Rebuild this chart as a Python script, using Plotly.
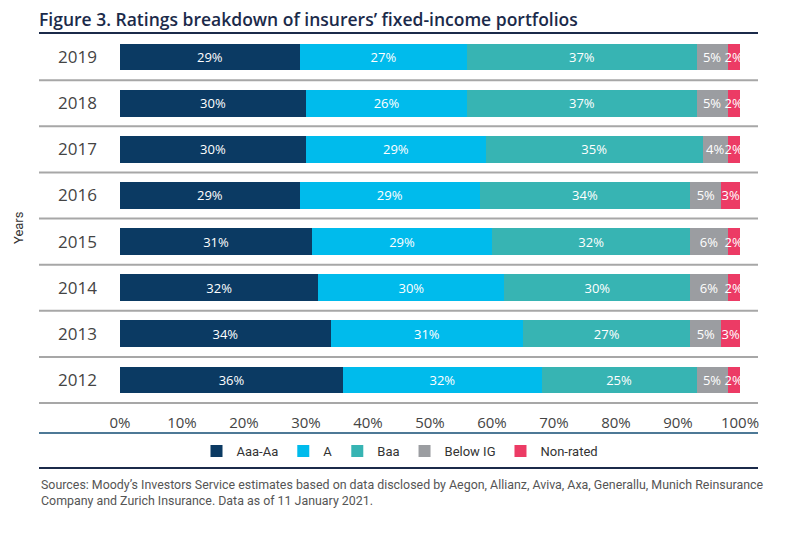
import plotly.graph_objects as go

years = ["2019", "2018", "2017", "2016", "2015", "2014", "2013", "2012"]
aaa_aa = [29, 30, 30, 29, 31, 32, 34, 36]
a_vals = [27, 26, 29, 29, 29, 30, 31, 32]
baa = [37, 37, 35, 34, 32, 30, 27, 25]
below_ig = [5, 5, 4, 5, 6, 6, 5, 5]
non_rated = [2, 2, 2, 3, 2, 2, 3, 2]
x_ticks = [0, 10, 20, 30, 40, 50, 60, 70, 80, 90, 100]

series = [
    ("Aaa-Aa", aaa_aa, "#0b3a63"),
    ("A", a_vals, "#00bbec"),
    ("Baa", baa, "#37b4b3"),
    ("Below IG", below_ig, "#9b9da1"),
    ("Non-rated", non_rated, "#ec3b65"),
]

COND = "Roboto, sans-serif"
# the page body adds an 8px offset; the figure is laid out in image pixels minus that
OFF = 8
W, H = 800 - OFF, 536 - OFF

fig = go.Figure()
for name, vals, col in series:
    fig.add_trace(go.Bar(
        y=years, x=vals, name=name, orientation="h",
        marker=dict(color=col, line=dict(width=0)),
        text=[f"{v}%" for v in vals], textposition="inside",
        insidetextanchor="middle", textangle=0,
        textfont=dict(color="white", size=13, family="Open Sans"),
        width=0.58,
    ))

fig.update_layout(
    barmode="stack",
    width=W, height=H,
    margin=dict(l=120 - OFF, r=800 - 740, t=34 - OFF, b=536 - 404, autoexpand=False),
    paper_bgcolor="white", plot_bgcolor="white",
    uniformtext=dict(minsize=13, mode="show"),
    showlegend=True,
    legend=dict(orientation="h", xref="container", yref="container",
                x=(400 - OFF) / W, xanchor="center", y=1 - (451 - OFF) / H, yanchor="middle",
                font=dict(family=COND, size=13, color="#333"),
                traceorder="normal", itemwidth=30),
    xaxis=dict(range=[0, 100], tickvals=x_ticks, automargin=False,
               ticktext=[f"{t}%" for t in x_ticks],
               showgrid=False, zeroline=False, showline=False,
               tickfont=dict(family="Open Sans", size=15, color="#444"),
               ticks="outside", ticklen=5, tickcolor="rgba(0,0,0,0)"),
    yaxis=dict(categoryorder="array", categoryarray=years, autorange="reversed",
               showgrid=False, zeroline=False, showline=False, automargin=False,
               tickfont=dict(family="Open Sans", size=17, color="#444"),
               ticklabelstandoff=22),
    title=dict(text="Figure 3. Ratings breakdown of insurers’ fixed-income portfolios",
               x=(39 - OFF) / W, xanchor="left", y=1 - (20 - OFF) / H, yanchor="middle",
               font=dict(family="Open Sans", size=17.5, color="#1b2a4a", weight=600)),
)

# row separators
shapes = []
x0p = (39 - 120) / 620
x1p = (758 - 120) / 620
for i in range(len(years)):
    shapes.append(dict(type="line", xref="paper", yref="y", x0=x0p, x1=x1p,
                       y0=i + 0.5, y1=i + 0.5, line=dict(color="#a7a7a7", width=2)))
# title rule
shapes.append(dict(type="line", xref="paper", yref="paper", x0=x0p, x1=x1p,
                   y0=(404 - 33) / 370, y1=(404 - 33) / 370,
                   line=dict(color="#1b2a4a", width=2)))
# axis rule
shapes.append(dict(type="line", xref="paper", yref="paper", x0=x0p, x1=x1p,
                   y0=(404 - 433) / 370, y1=(404 - 433) / 370,
                   line=dict(color="#4d7996", width=2)))
# legend rule
shapes.append(dict(type="line", xref="paper", yref="paper", x0=x0p, x1=x1p,
                   y0=(404 - 468) / 370, y1=(404 - 468) / 370,
                   line=dict(color="#1b2a4a", width=2)))
fig.update_layout(shapes=shapes)

fig.add_annotation(text="Years", xref="paper", yref="paper",
                   x=(18 - 120) / 620, y=(404 - 228) / 370, textangle=-90,
                   xanchor="center", yanchor="middle",
                   showarrow=False, font=dict(family=COND, size=13, color="#333"))
fig.add_annotation(
    text="Sources: Moody’s Investors Service estimates based on data disclosed by Aegon, Allianz, Aviva, Axa, Generallu, Munich Reinsurance<br>Company and Zurich Insurance. Data as of 11 January 2021.",
    xref="paper", yref="paper", x=(39 - 120) / 620, y=(404 - 475) / 370,
    xanchor="left", yanchor="top", align="left", showarrow=False,
    font=dict(family=COND, size=12.4, color="#555"))

fig.write_html("out.html")
